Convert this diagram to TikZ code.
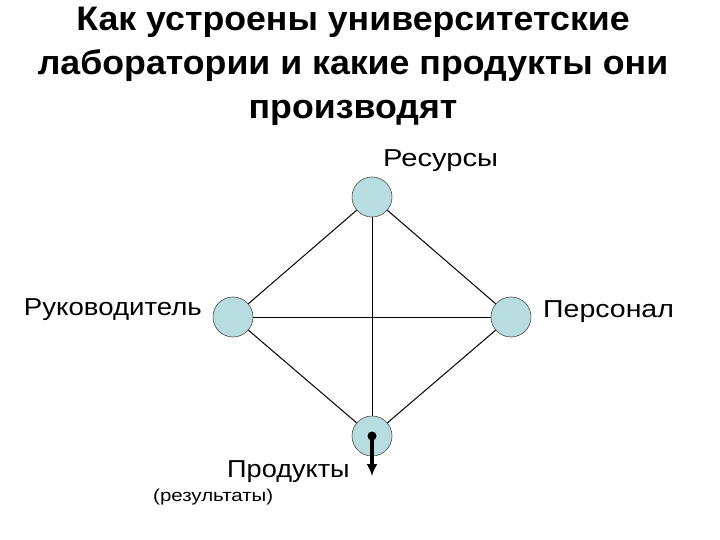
\documentclass[tikz,border=0pt]{standalone}
\usepackage{fontspec}
\usepackage{graphicx}
\setmainfont{Liberation Sans}
\newfontfamily\lblfont[FakeStretch=1.19]{Liberation Sans}
\newfontfamily\ttlfont[FakeStretch=1.05]{Liberation Sans Bold}
\usetikzlibrary{arrows.meta}
\definecolor{nodefill}{HTML}{B7DDE0}
\begin{document}
\begin{tikzpicture}[x=1pt,y=-1pt,
  vertex/.style={circle,draw=black!70,line width=0.6pt,fill=nodefill,minimum size=40pt,inner sep=0pt},
  edge/.style={draw=black,line width=1pt},
  ttl/.style={inner sep=0pt,anchor=base,font=\ttlfont\fontsize{34}{44}\selectfont},
  lbl/.style={inner sep=0pt,font=\lblfont\fontsize{24.5}{29}\selectfont},
  small/.style={inner sep=0pt,font=\lblfont\fontsize{17.2}{20}\selectfont}]
\useasboundingbox (0,0) rectangle (720,540);
\fill[white] (0,0) rectangle (720,540);
% title
\node[ttl] (t1) at (353,31) {Как устроены университетские};
\node[ttl] (t2) at (353,75) {лаборатории и какие продукты они};
\node[ttl] (t3) at (353,119) {производят};
% vertices
\coordinate (ctop) at (372,197);
\coordinate (cleft) at (233,317);
\coordinate (cright) at (511,317);
\coordinate (cbot) at (372,436);
\draw[edge] (ctop) -- (cleft) -- (cbot) -- (cright) -- (ctop);
\draw[edge] (ctop) -- (cbot);
\draw[edge] (cleft) -- (cright);
\node[vertex] (top) at (ctop) {};
\node[vertex] (left) at (cleft) {};
\node[vertex] (right) at (cright) {};
\node[vertex] (bot) at (cbot) {};
% labels
\node[lbl,anchor=base west] (lres) at (383,167) {Ресурсы};
\node[lbl,anchor=base west] (lper) at (543,317) {\scalebox{0.977}[1]{Персонал}};
\node[lbl,anchor=base east] (lruk) at (202,315) {\scalebox{0.947}[1]{Руководитель}};
\node[lbl,anchor=base west] (lpro) at (227,477) {\scalebox{0.93}[1]{Продукты}};
\node[small,anchor=base west] (lrez) at (153,501) {(результаты)};
% output arrow
\coordinate (ptip) at (372,476);
\fill[black] (bot.center) circle (4.5);
\draw[line width=3.2pt,-{Latex[length=12pt,width=11pt]}] (bot.center) -- (ptip);
\end{tikzpicture}
\end{document}
